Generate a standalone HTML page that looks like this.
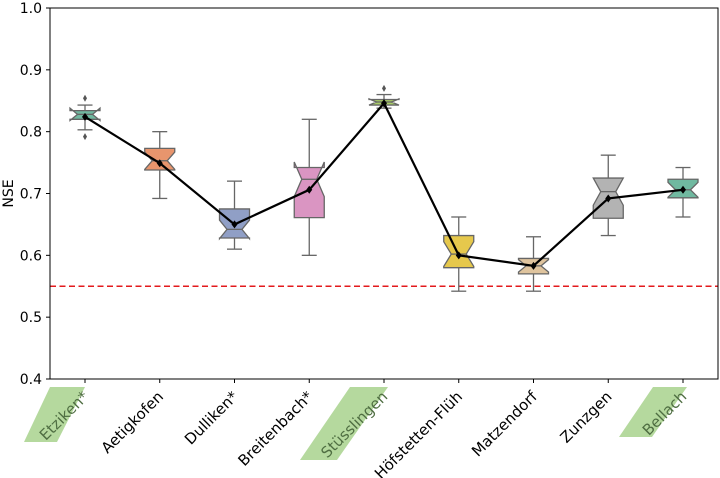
<!DOCTYPE html>
<html><head><meta charset="utf-8"><style>
body{margin:0;background:#fff}
svg{display:block;font-family:"DejaVu Sans","Liberation Sans",sans-serif}
</style></head><body>
<svg id="chart" width="720" height="478" viewBox="0 0 720 478" xmlns="http://www.w3.org/2000/svg">
<g id="labels-bg"></g>
<g id="plot"></g>
<g id="axes"></g>
</svg>
<script>
const categories=["Etziken*","Aetigkofen","Dulliken*","Breitenbach*","Stüsslingen","Höfstetten-Flüh","Matzendorf","Zunzgen","Bellach"];
const highlighted=[true,false,false,false,true,false,false,false,true];
const q1=[0.820,0.738,0.628,0.661,0.843,0.580,0.570,0.660,0.693];
const q3=[0.834,0.773,0.675,0.742,0.852,0.632,0.595,0.725,0.723];
const medians=[0.828,0.753,0.642,0.723,0.848,0.602,0.583,0.703,0.706];
const notchHalf=[0.010,0.014,0.015,0.028,0.005,0.020,0.010,0.022,0.012];
const whiskLo=[0.803,0.692,0.610,0.600,0.838,0.542,0.542,0.632,0.662];
const whiskHi=[0.843,0.800,0.720,0.820,0.860,0.662,0.630,0.762,0.742];
const outliers=[[0.854,0.792],[],[],[],[0.870],[],[],[],[]];
const means=[0.824,0.749,0.650,0.706,0.846,0.600,0.583,0.692,0.706];
const colors=["#70b9a0","#e8956d","#909fc6","#da95c2","#a8cc66","#e6c84c","#dfc49e","#b3b3b3","#70b9a0"];
const yTicks=[0.4,0.5,0.6,0.7,0.8,0.9,1.0];
const threshold=0.55;

const NS="http://www.w3.org/2000/svg";
const L=50,R=718,T=8,B=379;
const y=v=>B-(v-0.4)/0.6*(B-T);
const x=i=>85+74.75*i;
function mk(tag,attrs,parent){const e=document.createElementNS(NS,tag);for(const k in attrs)e.setAttribute(k,attrs[k]);parent.appendChild(e);return e;}
const plot=document.getElementById('plot'),axes=document.getElementById('axes'),lbg=document.getElementById('labels-bg');

let th=mk('line',{x1:L,x2:R,y1:y(threshold),y2:y(threshold),stroke:'#e31a1c','stroke-width':1.6,'stroke-dasharray':'6,3.5'},plot);



const hw=15,nw=7.5;
categories.forEach((c,i)=>{
  const cx=x(i);
  const g=mk('g',{},plot);
  
  
  const st={stroke:'#666','stroke-width':1.3,fill:'none'};
  mk('line',Object.assign({x1:cx,x2:cx,y1:y(q3[i]),y2:y(whiskHi[i])},st),g);
  mk('line',Object.assign({x1:cx,x2:cx,y1:y(q1[i]),y2:y(whiskLo[i])},st),g);
  mk('line',Object.assign({x1:cx-hw/2,x2:cx+hw/2,y1:y(whiskHi[i]),y2:y(whiskHi[i])},st),g);
  mk('line',Object.assign({x1:cx-hw/2,x2:cx+hw/2,y1:y(whiskLo[i]),y2:y(whiskLo[i])},st),g);
  const m=medians[i],nl=m-notchHalf[i],nh=m+notchHalf[i];
  const pts=[[cx-hw,q1[i]],[cx-hw,nl],[cx-nw,m],[cx-hw,nh],[cx-hw,q3[i]],[cx+hw,q3[i]],[cx+hw,nh],[cx+nw,m],[cx+hw,nl],[cx+hw,q1[i]]];
  mk('polygon',{points:pts.map(p=>p[0]+','+y(p[1])).join(' '),fill:colors[i],stroke:'#666','stroke-width':1.3},g);
  mk('line',{x1:cx-nw,x2:cx+nw,y1:y(m),y2:y(m),stroke:'#666','stroke-width':1.3},g);
  outliers[i].forEach(o=>{
    const d=mk('path',{d:`M${cx},${y(o)-3.5}L${cx+2},${y(o)}L${cx},${y(o)+3.5}L${cx-2},${y(o)}Z`,fill:'#555'},g);
    
    
  });
});
let ml=mk('polyline',{points:means.map((v,i)=>x(i)+','+y(v)).join(' '),fill:'none',stroke:'#000','stroke-width':2.2},plot);


means.forEach((v,i)=>{
  const cx=x(i),cy=y(v);
  const d=mk('path',{d:`M${cx},${cy-4}L${cx+3},${cy}L${cx},${cy+4}L${cx-3},${cy}Z`,fill:'#000'},plot);
  
  
});

let fr=mk('rect',{x:L,y:T,width:R-L,height:B-T,fill:'none',stroke:'#000','stroke-width':1},axes);


yTicks.forEach(t=>{
  mk('line',{x1:L-4,x2:L,y1:y(t),y2:y(t),stroke:'#000'},axes);
  const tx=mk('text',{x:L-8,y:y(t)+5,'text-anchor':'end','font-size':14,fill:'#000'},axes);
  tx.textContent=t.toFixed(1);
  
  
});
const yl=mk('text',{x:13,y:(T+B)/2,'text-anchor':'middle','font-size':14,transform:`rotate(-90 13 ${(T+B)/2})`},axes);
yl.textContent='NSE';



const hl={0:[[50,387],[85,387],[57,442],[24,442]],4:[[350,387],[388,387],[337,460],[300,460]],8:[[653,387],[687,387],[652,437],[619,437]]};
categories.forEach((c,i)=>{
  const cx=x(i);
  mk('line',{x1:cx,x2:cx,y1:B,y2:B+4,stroke:'#000'},axes);
  if(highlighted[i]){
    const p=mk('polygon',{points:hl[i].map(q=>q.join(',')).join(' '),fill:'#b5d99e'},lbg);
    
    
  }
  const ax=cx-4,ay=389;
  const t=mk('text',{x:ax,y:ay+12,'text-anchor':'end','font-size':15,fill:highlighted[i]?'#4f6e42':'#000',transform:`rotate(-45 ${ax} ${ay})`},axes);
  t.textContent=c;
  
  
});
</script>
</body></html>
